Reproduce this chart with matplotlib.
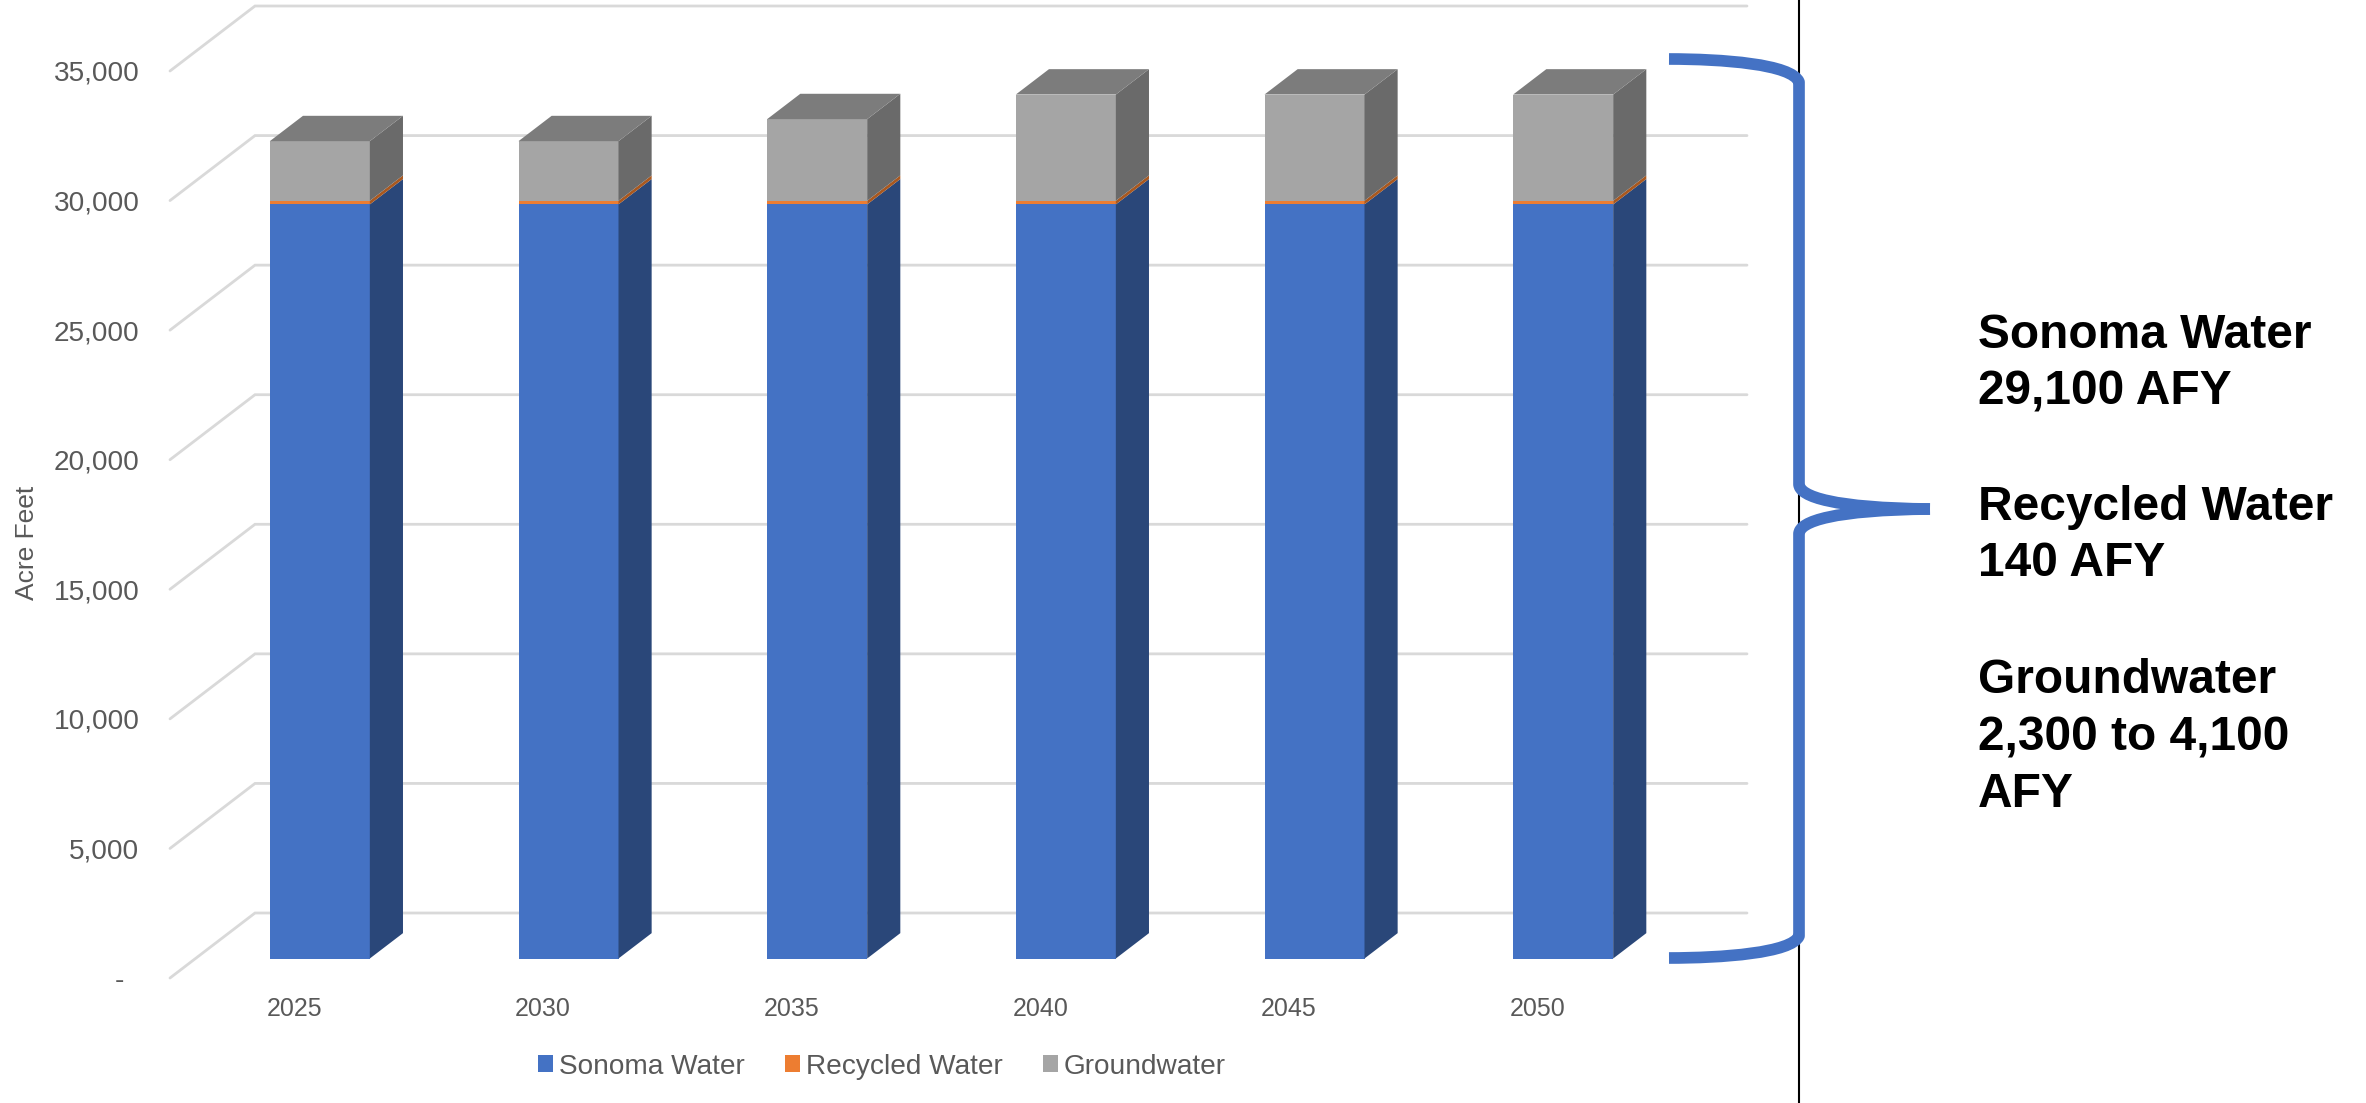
import matplotlib
matplotlib.use("Agg")
import matplotlib.pyplot as plt
from matplotlib.patches import PathPatch
from matplotlib.path import Path
import numpy as np

plt.rcParams['font.family'] = ['Liberation Sans', 'DejaVu Sans']

# --- data -------------------------------------------------------------
years = ['2025', '2030', '2035', '2040', '2045', '2050']
sonoma_water = [29100, 29100, 29100, 29100, 29100, 29100]
recycled_water = [140, 140, 140, 140, 140, 140]
groundwater = [2300, 2300, 3150, 4100, 4100, 4100]
value_ticks = [0, 5000, 10000, 15000, 20000, 25000, 30000, 35000]
value_labels = ['-  ', '5,000', '10,000', '15,000', '20,000', '25,000', '30,000', '35,000']
series_names = ['Sonoma Water', 'Recycled Water', 'Groundwater']
note_blocks = ['Sonoma Water\n29,100 AFY', 'Recycled Water\n140 AFY', 'Groundwater\n2,300 to 4,100\nAFY']

# --- style ------------------------------------------------------------
W, H = 2366, 1103
front_colors = ['#4472C4', '#ED7D31', '#A5A5A5']
side_colors = ['#2A4779', '#A9581F', '#6A6A6A']
top_color = '#7C7C7C'
grid_color = '#D9D9D9'
text_color = '#595959'

fig = plt.figure(figsize=(W / 100, H / 100), dpi=100, facecolor='white')
# The axes is the front plane of the 3-D box
ax = fig.add_axes([170 / W, (H - 978) / H, 1492 / W, 907 / H])
ax.set_xlim(-0.5, 5.5)
ax.set_ylim(0, 35000)
ax.patch.set_alpha(0)
for s in ax.spines.values():
    s.set_visible(False)

# One unit of depth in data units (oblique projection)
DX = 85 / (1492 / 6)
DY = 65 / (907 / 35000)
BAR_W = 100 / (1492 / 6)
D0, D1 = 0.30, 0.69

pos = np.arange(len(years), dtype=float)

# walls: gridlines
for v in value_ticks:
    ax.plot([-0.5, -0.5 + DX, 5.5 + DX], [v, v + DY, v + DY], color=grid_color,
            lw=2.0, clip_on=False, zorder=1, solid_joinstyle='miter', solid_capstyle='round')

# bars
bottoms = np.zeros(len(years))
handles = []
for vals, fc, sc, name in zip([sonoma_water, recycled_water, groundwater], front_colors, side_colors, series_names):
    vals = np.array(vals, dtype=float)
    cont = ax.bar(pos + D0 * DX, vals, bottom=bottoms + D0 * DY, width=BAR_W, color=fc,
                  label=name, clip_on=False, zorder=3, linewidth=0)
    handles.append(cont)
    for p, b, h in zip(pos, bottoms, vals):
        xr0 = p + D0 * DX + BAR_W / 2
        xr1 = p + D1 * DX + BAR_W / 2
        ax.fill([xr0, xr1, xr1, xr0],
                [b + D0 * DY, b + D1 * DY, b + h + D1 * DY, b + h + D0 * DY],
                color=sc, lw=0, clip_on=False, zorder=3)
    bottoms = bottoms + vals
for p, t in zip(pos, bottoms):
    xl0 = p + D0 * DX - BAR_W / 2
    xr0 = xl0 + BAR_W
    ax.fill([xl0, xr0, xr0 + (D1 - D0) * DX, xl0 + (D1 - D0) * DX],
            [t + D0 * DY, t + D0 * DY, t + D1 * DY, t + D1 * DY],
            color=top_color, lw=0, clip_on=False, zorder=3)

# axes text
ax.set_xticks(pos, years)
ax.set_yticks(value_ticks, value_labels)
ax.tick_params(axis='x', length=0, pad=14, labelsize=18, labelcolor=text_color)
ax.tick_params(axis='y', length=0, pad=22, labelsize=20.2, labelcolor=text_color)
ax.set_ylabel('Acre Feet', fontsize=19, color=text_color, rotation=90, va='center')
ax.yaxis.set_label_coords((27 - 170) / 1492, (978 - 543) / 907)

ax.legend(handles=handles, labels=series_names, loc='center', ncol=3, frameon=False,
          bbox_to_anchor=(882 / W, (H - 1066.5) / H), bbox_transform=fig.transFigure,
          fontsize=20.2, labelcolor=text_color, handlelength=0.535, handleheight=0.535,
          handletextpad=0.21, columnspacing=1.43, borderpad=0, borderaxespad=0)

# Overlay in image pixels for the annotation (rule, brace, notes)
ov = fig.add_axes([0, 0, 1, 1], zorder=5)
ov.set_xlim(0, W)
ov.set_ylim(H, 0)
ov.axis('off')
ov.patch.set_alpha(0)

ov.plot([1799, 1799], [0, H], color='black', lw=1.5, zorder=1)

upper = [(1669, 59), (1722, 59), (1792, 64), (1799, 82),
         (1799, 484),
         (1799, 497), (1835, 508), (1930, 509)]
upper_codes = [Path.MOVETO, Path.CURVE4, Path.CURVE4, Path.CURVE4,
               Path.LINETO, Path.CURVE4, Path.CURVE4, Path.CURVE4]
lower = [(1930, 509), (1835, 510), (1799, 521), (1799, 534),
         (1799, 936),
         (1792, 953), (1722, 958), (1669, 958)]
lower_codes = upper_codes
for v, c in ((upper, upper_codes), (lower, lower_codes)):
    ov.add_patch(PathPatch(Path(v, c), fc='none', ec='#4472C4', lw=8.4,
                           capstyle='butt', joinstyle='round', zorder=2))

for txt, y in zip(note_blocks, [363.5, 535.5, 737.5]):
    ov.text(1978, y, txt, fontsize=34.5, fontweight='bold', color='black',
            ha='left', va='center', linespacing=1.34)

fig.savefig('out.png', dpi=100, facecolor='white')
